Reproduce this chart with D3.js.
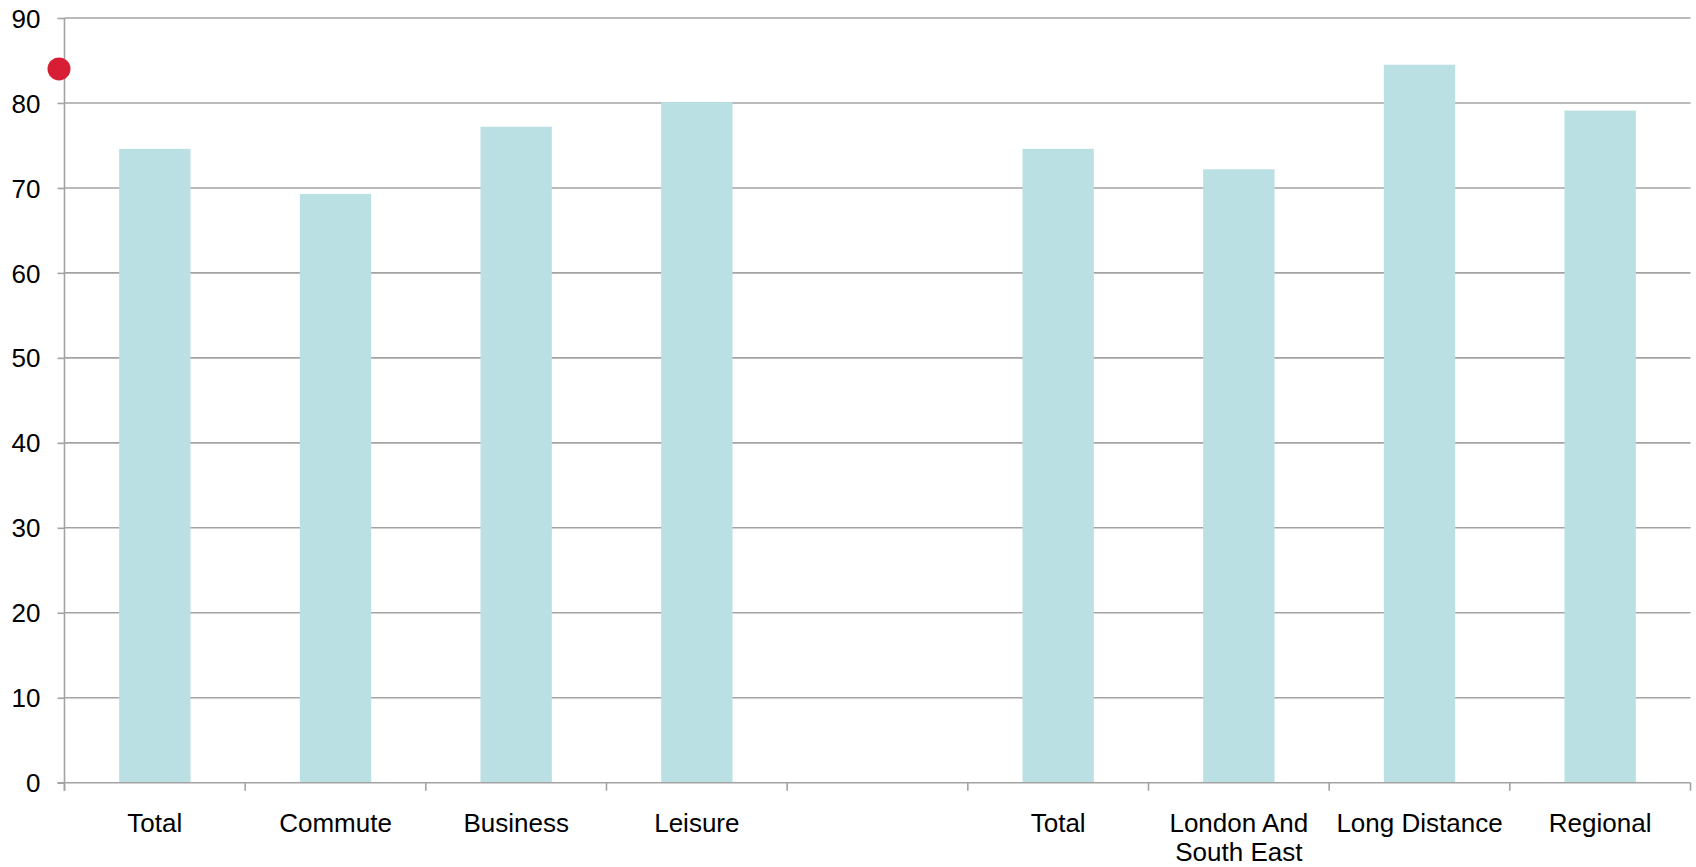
<!DOCTYPE html>
<html>
<head>
<meta charset="utf-8">
<script src="https://cdn.jsdelivr.net/npm/d3@7/dist/d3.min.js"></script>
<style>
  html, body { margin: 0; padding: 0; background: #fff; }
  svg { display: block; font-family: "Liberation Sans", Arial, sans-serif; }
</style>
</head>
<body>
<svg id="chart" width="1696" height="867"></svg>
<script>
// Data
const categoryKeys = ["total1", "commute", "business", "leisure", "gap", "total2", "lse", "long", "regional"];
const categoryLabels = [["Total"], ["Commute"], ["Business"], ["Leisure"], [""], ["Total"], ["London And", "South East"], ["Long Distance"], ["Regional"]];
const barValues = [74.6, 69.3, 77.2, 80.1, null, 74.6, 72.2, 84.5, 79.1];
const markerValues = [84.0];
const yTicks = [0, 10, 20, 30, 40, 50, 60, 70, 80, 90];

(function () {
const svg = d3.select("#chart");
const plotLeft = 64.5, plotRight = 1690.5, plotTop = 18, plotBottom = 782.7;
const fontSize = 26;

const x = d3.scaleBand().domain(categoryKeys).range([plotLeft, plotRight]).padding(0);
const y = d3.scaleLinear().domain([0, 90]).range([plotBottom, plotTop]);

const gridColor = "#a3a3a3";

// gridlines
svg.append("g").selectAll("line").data(yTicks.filter(d => d > 0)).join("line")
  .attr("x1", plotLeft).attr("x2", plotRight)
  .attr("y1", d => y(d)).attr("y2", d => y(d))
  .attr("stroke", gridColor).attr("stroke-width", 1.6);

// bars
const barFrac = 0.395;
svg.append("g").selectAll("rect")
  .data(categoryKeys.map((k, i) => ({ k, v: barValues[i] })).filter(d => d.v != null))
  .join("rect")
  .attr("x", d => x(d.k) + x.bandwidth() * (1 - barFrac) / 2)
  .attr("width", x.bandwidth() * barFrac)
  .attr("y", d => y(d.v))
  .attr("height", d => y(0) - y(d.v))
  .attr("fill", "#bae0e3");

// y axis
const yAxis = d3.axisLeft(y).tickValues(yTicks).tickSize(7).tickPadding(17);
const gy = svg.append("g").attr("transform", `translate(${plotLeft},0)`).call(yAxis);
gy.select(".domain").attr("stroke", gridColor).attr("stroke-width", 1.6).attr("d", `M0,${plotTop}V${plotBottom + 8}`);
gy.selectAll(".tick line").attr("stroke", gridColor).attr("stroke-width", 1.6);
gy.selectAll(".tick text").attr("font-size", fontSize).attr("fill", "#000").attr("dy", "0.35em")
  .attr("font-family", "'Liberation Sans', Arial, sans-serif");

// x axis
const xAxis = d3.axisBottom(x).tickSize(0).tickFormat("");
const gx = svg.append("g").attr("transform", `translate(0,${plotBottom})`).call(xAxis);
gx.select(".domain").attr("stroke", gridColor).attr("stroke-width", 1.6).attr("d", `M${plotLeft - 7},0H${plotRight}`);
const boundaries = categoryKeys.map(k => x(k)).concat([plotRight]);
gx.append("g").selectAll("line").data(boundaries).join("line")
  .attr("x1", d => d).attr("x2", d => d).attr("y1", 0).attr("y2", 8)
  .attr("stroke", gridColor).attr("stroke-width", 1.6);
const lab = gx.append("g").selectAll("text").data(categoryKeys).join("text")
  .attr("x", d => x(d) + x.bandwidth() / 2)
  .attr("y", 49)
  .attr("text-anchor", "middle")
  .attr("font-size", fontSize)
  .attr("font-family", "'Liberation Sans', Arial, sans-serif")
  .attr("fill", "#000");
lab.each(function (d, i) {
  const t = d3.select(this);
  categoryLabels[i].forEach((line, j) => {
    t.append("tspan").attr("x", x(d) + x.bandwidth() / 2).attr("dy", j === 0 ? 0 : 29).text(line);
  });
});

// red marker
svg.append("g").selectAll("circle").data(markerValues).join("circle")
  .attr("cx", plotLeft - 5.5).attr("cy", d => y(d)).attr("r", 11.5)
  .attr("fill", "#d81e34");
})();
</script>
</body>
</html>
